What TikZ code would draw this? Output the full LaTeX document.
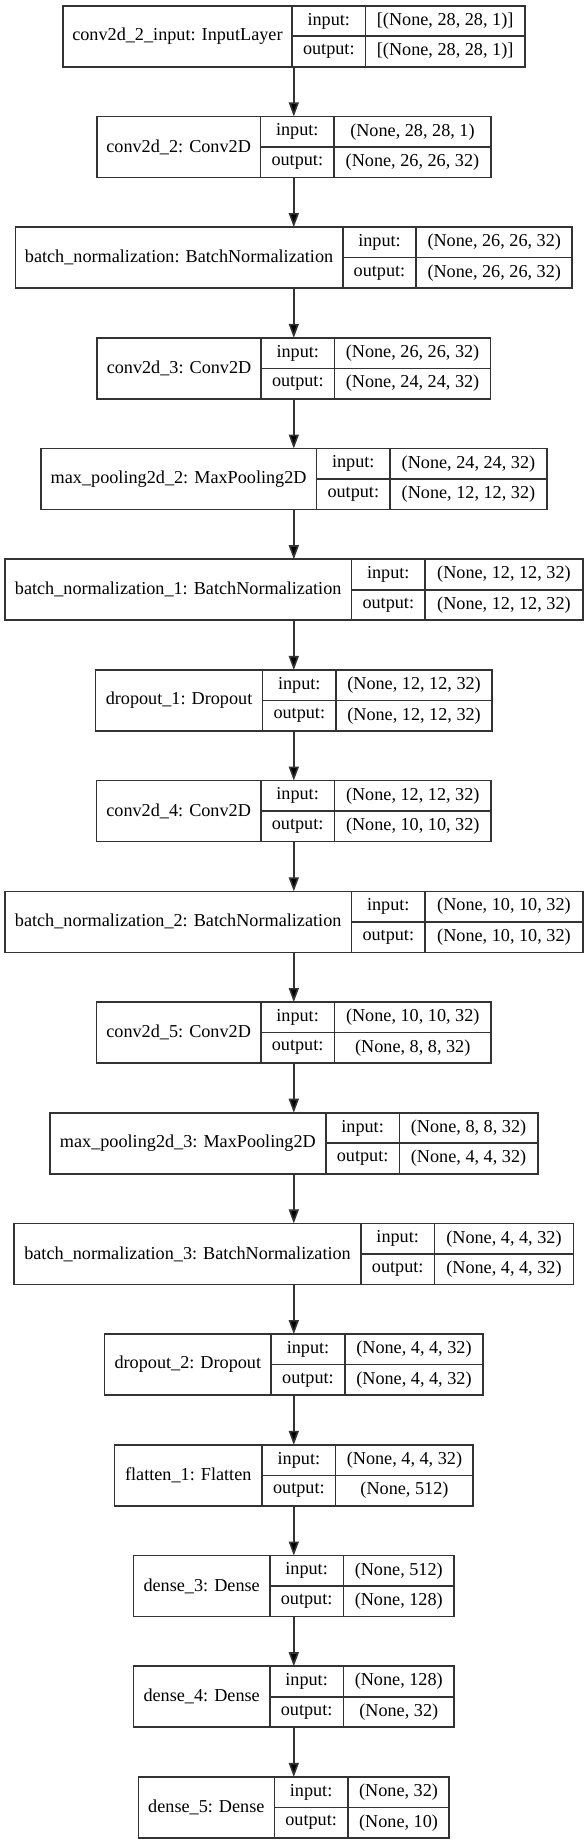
\documentclass[tikz,border=0pt]{standalone}
\usepackage{fontspec}
\setmainfont{Liberation Serif}
\usetikzlibrary{arrows.meta, positioning}

\tikzset{
    record/.style={minimum height=30.5pt, inner sep=0pt, outer sep=0pt},
    cell/.style={draw=black!80, line width=0.8pt, minimum height=15.25pt,
        inner sep=0pt, outer sep=0pt, font=\fontsize{9.1pt}{11pt}\selectfont},
    flow/.style={draw=black!80, line width=0.8pt, -{Triangle[length=7pt, width=5pt]}}
}

% layer box: name, placement, label width, shape width, label, input, output
\newcommand{\layerbox}[7]{
    \node[record, minimum width=#3+36.75pt+#4, #2] (#1) {};
    \node[cell, minimum width=#3, minimum height=30.5pt, anchor=north west] (#1-l) at (#1.north west) {#5};
    \node[cell, minimum width=36.75pt, anchor=north west] (#1-i) at (#1-l.north east) {input:};
    \node[cell, minimum width=36.75pt, anchor=north west] (#1-o) at (#1-i.south west) {output:};
    \node[cell, minimum width=#4, anchor=north west] (#1-iv) at (#1-i.north east) {#6};
    \node[cell, minimum width=#4, anchor=north west] (#1-ov) at (#1-iv.south west) {#7};
}

\begin{document}
\begin{tikzpicture}[node distance=24.85pt]
        \useasboundingbox (0,0) rectangle (294pt,-922pt);

        % Draw the layers
        \layerbox{conv2d2input}{at={(146.9pt,-2.85pt)}, anchor=north}{114.6pt}{79.6pt}{conv2d\_2\_input: InputLayer}{[(None, 28, 28, 1)]}{[(None, 28, 28, 1)]}
        \layerbox{conv2d2}{below=of conv2d2input}{81.9pt}{78.4pt}{conv2d\_2: Conv2D}{(None, 28, 28, 1)}{(None, 26, 26, 32)}
        \layerbox{bn}{below=of conv2d2}{163.7pt}{78pt}{batch\_normalization: BatchNormalization}{(None, 26, 26, 32)}{(None, 26, 26, 32)}
        \layerbox{conv2d3}{below=of bn}{82pt}{78pt}{conv2d\_3: Conv2D}{(None, 26, 26, 32)}{(None, 24, 24, 32)}
        \layerbox{maxpool2}{below=of conv2d3}{137.9pt}{78.4pt}{max\_pooling2d\_2: MaxPooling2D}{(None, 24, 24, 32)}{(None, 12, 12, 32)}
        \layerbox{bn1}{below=of maxpool2}{173.4pt}{78.9pt}{batch\_normalization\_1: BatchNormalization}{(None, 12, 12, 32)}{(None, 12, 12, 32)}
        \layerbox{dropout1}{below=of bn1}{83.5pt}{78pt}{dropout\_1: Dropout}{(None, 12, 12, 32)}{(None, 12, 12, 32)}
        \layerbox{conv2d4}{below=of dropout1}{82.2pt}{78.4pt}{conv2d\_4: Conv2D}{(None, 12, 12, 32)}{(None, 10, 10, 32)}
        \layerbox{bn2}{below=of conv2d4}{173.4pt}{78.9pt}{batch\_normalization\_2: BatchNormalization}{(None, 10, 10, 32)}{(None, 10, 10, 32)}
        \layerbox{conv2d5}{below=of bn2}{82.2pt}{78.4pt}{conv2d\_5: Conv2D}{(None, 10, 10, 32)}{(None, 8, 8, 32)}
        \layerbox{maxpool3}{below=of conv2d5}{138pt}{69.2pt}{max\_pooling2d\_3: MaxPooling2D}{(None, 8, 8, 32)}{(None, 4, 4, 32)}
        \layerbox{bn3}{below=of maxpool3}{173.4pt}{69.5pt}{batch\_normalization\_3: BatchNormalization}{(None, 4, 4, 32)}{(None, 4, 4, 32)}
        \layerbox{dropout2}{below=of bn3}{83.4pt}{69.2pt}{dropout\_2: Dropout}{(None, 4, 4, 32)}{(None, 4, 4, 32)}
        \layerbox{flatten1}{below=of dropout2}{73.9pt}{68.8pt}{flatten\_1: Flatten}{(None, 4, 4, 32)}{(None, 512)}
        \layerbox{dense3}{below=of flatten1}{68.2pt}{55.4pt}{dense\_3: Dense}{(None, 512)}{(None, 128)}
        \layerbox{dense4}{below=of dense3}{68.2pt}{55.4pt}{dense\_4: Dense}{(None, 128)}{(None, 32)}
        \layerbox{dense5}{below=of dense4}{68pt}{50.7pt}{dense\_5: Dense}{(None, 32)}{(None, 10)}

        % Connect the layers with arrows
        \draw[flow]
            (conv2d2input) edge (conv2d2)
            (conv2d2) edge (bn)
            (bn) edge (conv2d3)
            (conv2d3) edge (maxpool2)
            (maxpool2) edge (bn1)
            (bn1) edge (dropout1)
            (dropout1) edge (conv2d4)
            (conv2d4) edge (bn2)
            (bn2) edge (conv2d5)
            (conv2d5) edge (maxpool3)
            (maxpool3) edge (bn3)
            (bn3) edge (dropout2)
            (dropout2) edge (flatten1)
            (flatten1) edge (dense3)
            (dense3) edge (dense4)
            (dense4) edge (dense5);
\end{tikzpicture}
\end{document}
